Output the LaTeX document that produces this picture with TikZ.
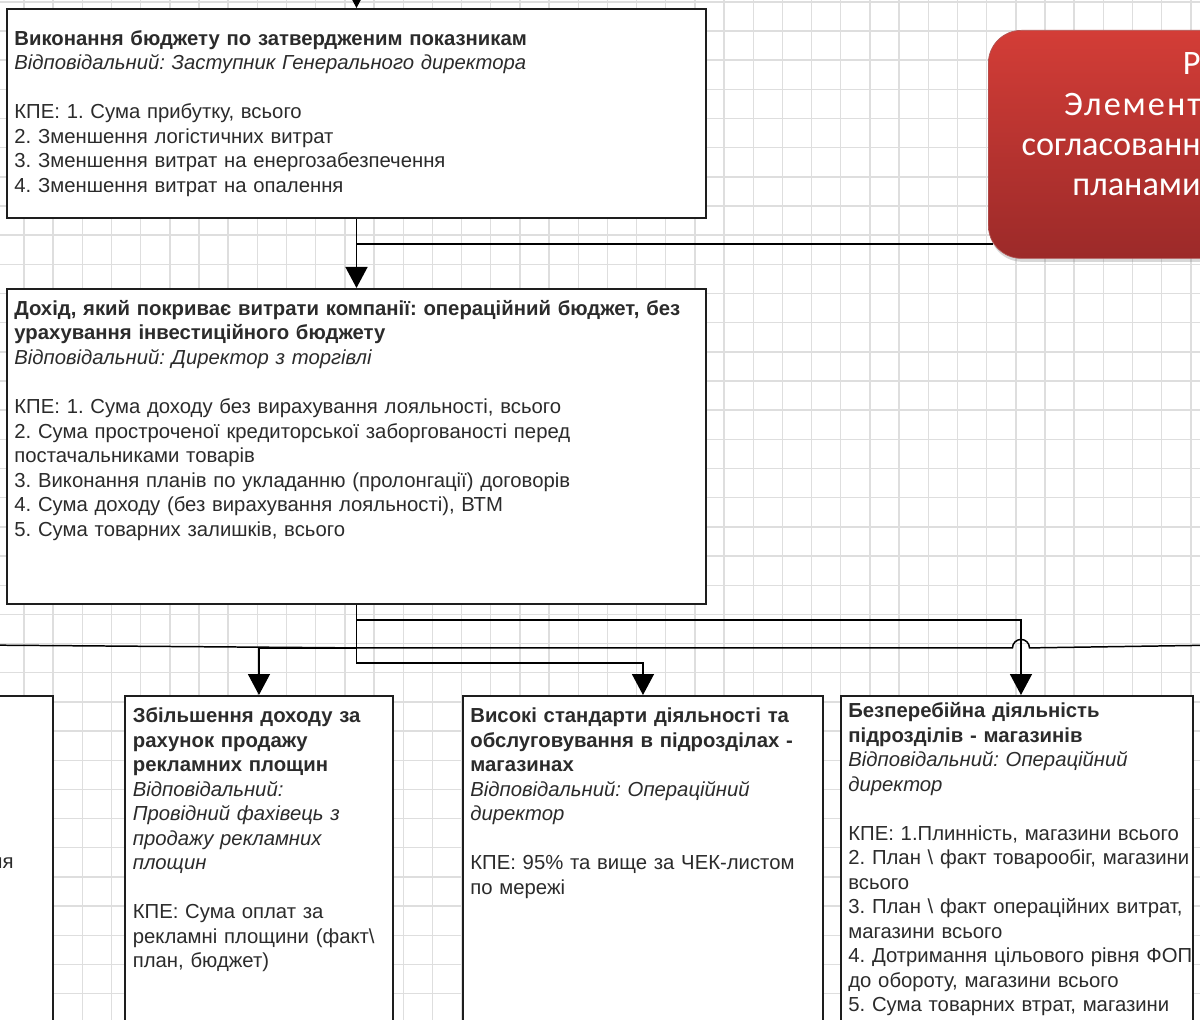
\documentclass[tikz,border=0pt]{standalone}
\usepackage{fontspec}
\setmainfont{Liberation Sans}
\newfontfamily\calibrifont{Carlito}
\usepackage{tikz}
\usetikzlibrary{arrows.meta,positioning,calc,shadows}
\frenchspacing
\definecolor{boxline}{HTML}{1E1E1E}
\definecolor{txtgray}{HTML}{2B2B2B}
\definecolor{gridgray}{HTML}{DEDEDE}
\definecolor{redtop}{HTML}{D33D37}
\definecolor{redbot}{HTML}{9C2A29}
\newcommand{\kpifont}{\fontsize{11.55}{13.95}\selectfont}
\tikzstyle{goalbox}=[draw=boxline, line width=1.1pt, fill=white, inner sep=0pt]
\tikzstyle{goaltext}=[anchor=base west, inner sep=0pt, align=left, text width=14cm, font=\kpifont, text=txtgray]
\tikzstyle{link}=[line width=0.85pt, black]
\tikzstyle{link>}=[link, -{Triangle[length=0.42cm, width=0.44cm]}]

\begin{document}
\begin{tikzpicture}
\useasboundingbox (0,0) rectangle (24,-20.38);
\clip (0,0) rectangle (24,-20.38);
\fill[white] (0,0) rectangle (24,-20.38);
\draw[gridgray, line width=0.8pt, step=0.5834cm, xshift=0.48cm, yshift=-0.036cm] (-1,-21) grid (24,1);

% goal boxes
\node[goalbox, minimum width=13.98cm, minimum height=4.18cm] (b1) at (7.13,-2.27) {};
\node[goalbox, minimum width=13.98cm, minimum height=6.3cm, below=1.38cm of b1] (b2) {};
\node[goalbox, anchor=north east, minimum width=6cm, minimum height=8.1cm] (bL) at (1.08,-13.9) {};
\node[goalbox, anchor=north west, minimum width=5.36cm, minimum height=8.1cm] (bB) at (2.48,-13.9) {};
\node[goalbox, anchor=north west, minimum width=7.2cm, minimum height=8.1cm] (bC) at (9.24,-13.9) {};
\node[goalbox, anchor=north west, minimum width=7.04cm, minimum height=8.1cm] (bD) at (16.8,-13.9) {};
\node[anchor=north west, minimum width=6.5cm, minimum height=4.56cm, rounded corners=0.66cm,
  top color=redtop, bottom color=redbot, draw=redbot!80,
  drop shadow={shadow xshift=0.02cm, shadow yshift=-0.07cm, opacity=0.3}] (rd) at (19.76,-0.6) {};

% texts
\node[goaltext] (t1) at ($(b1.north west)+(0.16,-0.74)$) {\textbf{Виконання бюджету по затвердженим показникам}\\
\textit{Відповідальний: Заступник Генерального директора}\\
~\\
КПЕ: 1. Сума прибутку, всього\\
2. Зменшення логістичних витрат\\
3. Зменшення витрат на енергозабезпечення\\
4. Зменшення витрат на опалення};
\node[goaltext] (t2) at ($(b2.north west)+(0.16,-0.55)$) {\textbf{Дохід, який покриває витрати компанії: операційний бюджет, без}\\
\textbf{урахування інвестиційного бюджету}\\
\textit{Відповідальний: Директор з торгівлі}\\
~\\
КПЕ: 1. Сума доходу без вирахування лояльності, всього\\
2. Сума простроченої кредиторської заборгованості перед\\
постачальниками товарів\\
3. Виконання планів по укладанню (пролонгації) договорів\\
4. Сума доходу (без вирахування лояльності), ВТМ\\
5. Сума товарних залишків, всього};
\node[goaltext, anchor=base east, text width=1cm, align=right] (tL) at (0.28,-17.36) {ня};
\node[goaltext] (tB) at ($(bB.north west)+(0.17,-0.55)$) {\textbf{Збільшення доходу за}\\
\textbf{рахунок продажу}\\
\textbf{рекламних площин}\\
\textit{Відповідальний:}\\
\textit{Провідний фахівець з}\\
\textit{продажу рекламних}\\
\textit{площин}\\
~\\
КПЕ: Сума оплат за\\
рекламні площини (факт\textbackslash\\
план, бюджет)};
\node[goaltext] (tC) at ($(bC.north west)+(0.16,-0.55)$) {\textbf{Високі стандарти діяльності та}\\
\textbf{обслуговування в підрозділах -}\\
\textbf{магазинах}\\
\textit{Відповідальний: Операційний}\\
\textit{директор}\\
~\\
КПЕ: 95\% та вище за ЧЕК-листом\\
по мережі};
\node[goaltext] (tD) at ($(bD.north west)+(0.16,-0.45)$) {\textbf{Безперебійна діяльність}\\
\textbf{підрозділів - магазинів}\\
\textit{Відповідальний: Операційний}\\
\textit{директор}\\
~\\
КПЕ: 1.Плинність, магазини всього\\
2. План \textbackslash{} факт товарообіг, магазини\\
всього\\
3. План \textbackslash{} факт операційних витрат,\\
магазини всього\\
4. Дотримання цільового рівня ФОП\\
до обороту, магазини всього\\
5. Сума товарних втрат, магазини};
\node[anchor=base east, inner sep=0pt, align=right, text width=6cm, text=white,
  font=\calibrifont\fontsize{19.5}{22.8}\selectfont] (rdtext) at (24.02,-1.5)
  {Р\\{\addfontfeature{LetterSpace=6}Элемент}\hspace*{0.12cm}\\согласованн\\планами};

% connectors
\coordinate (top) at (7.13,0.6);
\coordinate (j1) at ($(b1.south)!0.36!(b2.north)$);
\coordinate (jA) at ($(b2.south)+(0,-0.3)$);
\coordinate (jB) at ($(b2.south)+(0,-0.86)$);
\coordinate (jC) at ($(b2.south)+(0,-1.16)$);
\coordinate (offL) at (-0.5,-12.9);
\coordinate (offR) at (24.5,-12.9);
\coordinate (dIn) at ([xshift=0.08cm]bD.north);
\draw[link>] (top) -- (b1.north);
\draw[link>] (b1.south) -- (b2.north);
\draw[link] (j1) -- ($(rd.west |- j1)+(0.1,0)$);
\draw[link>] (b2.south) -- (jA) -| (dIn);
\draw[link>] (b2.south) -- (jB) -| (bB.north);
\draw[link>] (b2.south) -- (jC) -| (bC.north);
\draw[link] (jB) -- (offL);
\draw[link] (jB) -- ($(dIn |- jB)+(-0.17,0)$) arc[start angle=180, end angle=0, radius=0.17] -- (offR);
\end{tikzpicture}
\end{document}
